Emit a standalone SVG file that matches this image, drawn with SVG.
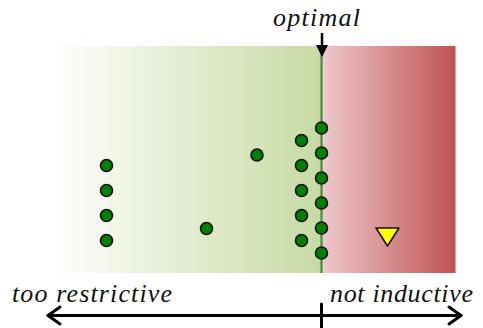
<svg xmlns="http://www.w3.org/2000/svg" width="483" height="328" viewBox="0 0 483 328">
<defs>
<linearGradient id="gg" x1="0" y1="0" x2="1" y2="0">
<stop offset="0" stop-color="#ffffff"/>
<stop offset="1" stop-color="#c7daa3"/>
</linearGradient>
<linearGradient id="rg" x1="0" y1="0" x2="1" y2="0">
<stop offset="0" stop-color="#eec9cc"/>
<stop offset="1" stop-color="#c05252"/>
</linearGradient>
<style>
.dot{fill:#007f00;stroke:#111;stroke-width:1.6}
.lbl{font-family:'Liberation Serif','Times New Roman',serif;font-style:italic;font-size:26px;fill:#111}
.ax{stroke:#000;stroke-width:3;fill:none;stroke-linecap:round;stroke-linejoin:round}
</style>
</defs>
<g id="background">
<rect x="50" y="46" width="271.5" height="227" fill="url(#gg)"/>
<rect x="321.5" y="46" width="134" height="227" fill="url(#rg)"/>
<line x1="321.5" y1="46" x2="321.5" y2="273" stroke="#2f8f2f" stroke-width="2"/>
</g>
<g id="dots">
<circle class="dot" cx="106.5" cy="165.5" r="6"/>
<circle class="dot" cx="106.5" cy="190.5" r="6"/>
<circle class="dot" cx="106.5" cy="215.5" r="6"/>
<circle class="dot" cx="106.5" cy="240.5" r="6"/>
<circle class="dot" cx="206.5" cy="228.5" r="6"/>
<circle class="dot" cx="257" cy="155" r="6"/>
<circle class="dot" cx="301.5" cy="140.5" r="6"/>
<circle class="dot" cx="301.5" cy="165.5" r="6"/>
<circle class="dot" cx="301.5" cy="190.5" r="6"/>
<circle class="dot" cx="301.5" cy="215.5" r="6"/>
<circle class="dot" cx="301.5" cy="240.5" r="6"/>
<circle class="dot" cx="321.5" cy="128" r="6"/>
<circle class="dot" cx="321.5" cy="153" r="6"/>
<circle class="dot" cx="321.5" cy="178" r="6"/>
<circle class="dot" cx="321.5" cy="203" r="6"/>
<circle class="dot" cx="321.5" cy="228" r="6"/>
<circle class="dot" cx="321.5" cy="253" r="6"/>
</g>
<g id="triangle">
<polygon points="376,228 399,228 387.5,246" fill="#ffff00" stroke="#111" stroke-width="1.6" stroke-linejoin="round"/>
</g>
<g id="optimal">
<text class="lbl" x="273" y="26" textLength="87" lengthAdjust="spacing">optimal</text>
<line x1="322" y1="33" x2="322" y2="48" stroke="#000" stroke-width="2.5"/>
<polygon points="316,45 328,45 322,57" fill="#000"/>
</g>
<g id="connectors">
<line class="ax" x1="48" y1="315.5" x2="461" y2="315.5"/>
<polyline class="ax" points="60,307 48,315.5 60,324"/>
<polyline class="ax" points="449,307 461,315.5 449,324"/>
<line class="ax" x1="321.5" y1="304" x2="321.5" y2="328"/>
</g>
<g id="labels">
<text class="lbl" x="12" y="302" textLength="160" lengthAdjust="spacing">too restrictive</text>
<text class="lbl" x="330" y="302" textLength="143" lengthAdjust="spacing">not inductive</text>
</g>
</svg>
